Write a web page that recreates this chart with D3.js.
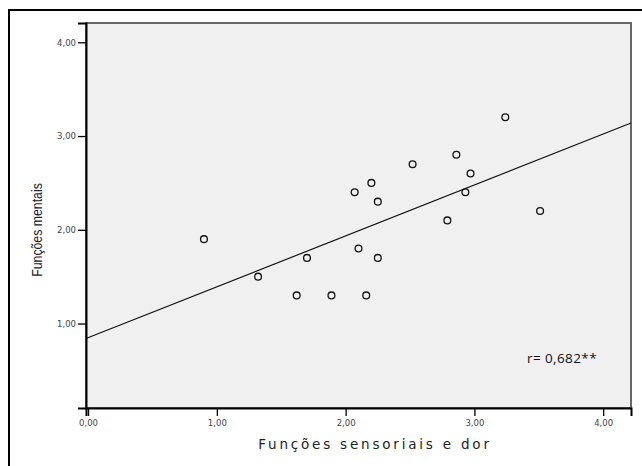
<!DOCTYPE html>
<html>
<head>
<meta charset="utf-8">
<script src="https://cdn.jsdelivr.net/npm/d3@7"></script>
<style>
  body { margin: 0; background: #fff; }
</style>
</head>
<body>
<div id="chart"></div>
<script>
// data
var sensoriais = [0.90, 1.32, 1.62, 1.70, 1.89, 2.07, 2.10, 2.16, 2.20, 2.25, 2.25, 2.52, 2.79, 2.86, 2.93, 2.97, 3.24, 3.51];
var mentais    = [1.90, 1.50, 1.30, 1.70, 1.30, 2.40, 1.80, 1.30, 2.50, 2.30, 1.70, 2.70, 2.10, 2.80, 2.40, 2.60, 3.20, 2.20];
var xTicks = [0, 1, 2, 3, 4];
var yTicks = [1, 2, 3, 4];
var xTitle = "Funções sensoriais e dor";
var yTitle = "Funções mentais";
var rLabel = "r= 0,682**";

function init(){

    var w = 642, h = 466;
    var pLeft = 86, pRight = 631, pTop = 23, pBottom = 408;

    var svg = d3.select("#chart").append("svg")
        .attr("width", w)
        .attr("height", h);

    // outer frame (runs off the right/bottom of the picture)
    svg.append("rect")
        .attr("x", 9).attr("y", 10)
        .attr("width", 660).attr("height", 480)
        .attr("fill", "#fff")
        .attr("stroke", "#000")
        .attr("stroke-width", 2);

    var x = d3.scaleLinear().domain([-0.016, 4.216]).range([pLeft, pRight]);
    var y = d3.scaleLinear().domain([0.099, 4.206]).range([pBottom, pTop]);

    // plot area
    svg.append("rect")
        .attr("x", pLeft).attr("y", pTop)
        .attr("width", pRight - pLeft).attr("height", pBottom - pTop)
        .attr("fill", "#f0f0f0")
        .attr("stroke", "#666")
        .attr("stroke-width", 2);

    // least squares fit line
    var data = sensoriais.map(function(d, i){ return [d, mentais[i]]; });
    var mx = d3.mean(sensoriais), my = d3.mean(mentais);
    var sxy = d3.sum(data, function(d){ return (d[0] - mx) * (d[1] - my); });
    var sxx = d3.sum(data, function(d){ return (d[0] - mx) * (d[0] - mx); });
    var slope = sxy / sxx;
    var icpt = my - slope * mx;
    var x0 = x.domain()[0], x1 = x.domain()[1];

    svg.append("line")
        .attr("x1", x(x0)).attr("y1", y(icpt + slope * x0))
        .attr("x2", x(x1)).attr("y2", y(icpt + slope * x1))
        .attr("stroke", "#111")
        .attr("stroke-width", 1.2);

    // axes
    var fmt = function(d){ return d3.format(".2f")(d).replace(".", ","); };

    var xAxis = svg.append("g")
        .attr("transform", "translate(0," + pBottom + ")")
        .call(d3.axisBottom(x).tickValues(xTicks).tickSize(8).tickPadding(4).tickFormat(fmt));
    var yAxis = svg.append("g")
        .attr("transform", "translate(" + pLeft + ",0)")
        .call(d3.axisLeft(y).tickValues(yTicks).tickSize(8).tickPadding(2).tickFormat(fmt));

    [xAxis, yAxis].forEach(function(g){
        g.select(".domain").attr("stroke", "#000").attr("stroke-width", 2);
        g.selectAll(".tick line").attr("stroke", "#000").attr("stroke-width", 1.3);
        g.selectAll(".tick text")
            .attr("fill", "#444")
            .style("font-family", "'DejaVu Sans', sans-serif")
            .style("font-size", "8.5px");
    });

    // points
    svg.append("g").selectAll("circle")
        .data(data)
        .enter()
        .append("circle")
        .attr("cx", function(d){ return x(d[0]); })
        .attr("cy", function(d){ return y(d[1]); })
        .attr("r", 3.4)
        .attr("fill", "none")
        .attr("stroke", "#111")
        .attr("stroke-width", 1.3);

    // titles
    svg.append("text")
        .attr("x", 375).attr("y", 449)
        .attr("text-anchor", "middle")
        .style("font-family", "'DejaVu Sans', sans-serif")
        .style("font-size", "13.5px")
        .style("letter-spacing", "2.8px")
        .attr("fill", "#222")
        .text(xTitle);

    svg.append("text")
        .attr("transform", "translate(42,230) rotate(-90) scale(0.82,1)")
        .attr("text-anchor", "middle")
        .style("font-family", "'Liberation Sans', Arial, sans-serif")
        .style("font-size", "15px")
        .attr("fill", "#222")
        .text(yTitle);

    svg.append("text")
        .attr("x", 527).attr("y", 363)
        .style("font-family", "'Open Sans', sans-serif")
        .style("font-size", "13.5px")
        .style("letter-spacing", "0.4px")
        .attr("fill", "#111")
        .text(rLabel);
}
window.onload = init;
</script>
</body>
</html>
